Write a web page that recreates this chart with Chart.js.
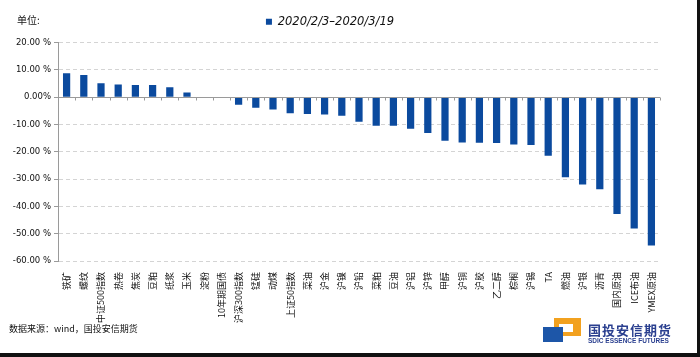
<!DOCTYPE html>
<html>
<head>
<meta charset="utf-8">
<script src="https://cdn.jsdelivr.net/npm/chart.js@4/dist/chart.umd.min.js"></script>
<style>
  html,body{margin:0;padding:0;background:#fff;}
  #wrap{position:relative;width:700px;height:357px;overflow:hidden;background:#fff;}
  #c{position:absolute;left:0;top:0;}
  .txt{position:absolute;font-family:"Noto Sans CJK SC","DejaVu Sans",sans-serif;color:#111;white-space:nowrap;}
</style>
</head>
<body>
<div id="wrap">
  <canvas id="c" width="700" height="357"></canvas>
  <div class="txt" style="left:17px;top:12px;font-size:10px;">单位:</div>
  <div class="txt" style="left:9px;top:322px;font-size:9px;">数据来源：wind，国投安信期货</div>
  <!-- logo -->
  <div style="position:absolute;left:554px;top:318px;width:27px;height:18px;background:#f2a11f;"></div>
  <div style="position:absolute;left:559px;top:324px;width:14px;height:8px;background:#fff;"></div>
  <div style="position:absolute;left:543px;top:327px;width:20px;height:15px;background:#1d56a8;"></div>
  <div class="txt" style="left:588px;top:320px;font-size:13px;font-weight:bold;color:#2a3f8f;letter-spacing:1px;">国投安信期货</div>
  <div class="txt" style="left:588px;top:337px;font-size:6.5px;color:#2a3f8f;font-family:'Liberation Sans',sans-serif;font-weight:bold;">SDIC ESSENCE FUTURES</div>
  <div style="position:absolute;left:697px;top:0;width:3px;height:357px;background:#111;"></div>
  <div style="position:absolute;left:0;top:353px;width:700px;height:4px;background:#111;"></div>
</div>
<script>
const categories = ["铁矿","螺纹","中证500指数","热卷","焦炭","豆粕","纸浆","玉米","淀粉","10年期国债",
  "沪深300指数","锰硅","动煤","上证50指数","菜油","沪金","沪镍","沪铅","菜粕","豆油",
  "沪铝","沪锌","甲醇","沪铜","沪胶","乙二醇","棕榈","沪锡","TA","燃油",
  "沪银","沥青","国内原油","ICE布油","YMEX原油"];
const changes = [8.7,8.1,5.1,4.6,4.4,4.4,3.6,1.7,-0.2,-0.3,
  -2.8,-3.9,-4.5,-5.9,-6.2,-6.4,-6.8,-9.0,-10.5,-10.5,
  -11.6,-13.1,-16.0,-16.6,-16.7,-16.8,-17.3,-17.5,-21.5,-29.3,
  -32.0,-33.7,-42.8,-48.1,-54.3];
const seriesName = "2020/2/3–2020/3/19";
const yTickLabels = {"20":"20.00 %","10":"10.00 %","0":"0.00%","-10":"-10.00 %","-20":"-20.00 %",
  "-30":"-30.00 %","-40":"-40.00 %","-50":"-50.00 %","-60":"-60.00 %"};

const legendGap = {
  id:'legendGap',
  beforeLayout(chart){
    const lg = chart.legend;
    if(lg && !lg._gapPatched){
      const orig = lg.fit;
      lg.fit = function(){ orig.call(this); this.height += 5; };
      lg._gapPatched = true;
    }
  }
};

const zeroLine = {
  id:'zeroLine',
  afterDatasetsDraw(chart){
    const {ctx, chartArea, scales:{x,y}} = chart;
    const y0 = Math.round(y.getPixelForValue(0)) + 0.5;
    ctx.save();
    ctx.strokeStyle = '#9a9a9a';
    ctx.lineWidth = 1;
    ctx.beginPath();
    ctx.moveTo(chartArea.left, y0);
    ctx.lineTo(chartArea.right, y0);
    const n = categories.length;
    for(let i=0;i<=n;i++){
      const xp = Math.round(x.getPixelForValue(i-0.5)) + 0.5;
      ctx.moveTo(xp, y0);
      ctx.lineTo(xp, y0+3);
    }
    ctx.stroke();
    ctx.restore();
  }
};

new Chart(document.getElementById('c'), {
  type:'bar',
  data:{
    labels: categories,
    datasets:[{
      label: seriesName,
      data: changes,
      backgroundColor:'#0b4a9e',
      borderWidth:0,
      barPercentage:0.42,
      categoryPercentage:1.0
    }]
  },
  options:{
    responsive:false,
    animation:false,
    devicePixelRatio:1,
    layout:{padding:{left:0,right:40,top:4,bottom:0}},
    plugins:{
      legend:{
        display:true,
        position:'top',
        labels:{
          usePointStyle:true,
          pointStyle:'rect',
          boxWidth:6,
          boxHeight:6,
          padding:12,
          color:'#111',
          font:{family:"'DejaVu Sans', sans-serif",size:11.5,style:'italic'}
        }
      },
      tooltip:{enabled:false}
    },
    scales:{
      x:{
        grid:{display:false},
        border:{display:false},
        ticks:{
          autoSkip:false,
          minRotation:90,
          maxRotation:90,
          padding:3,
          color:'#111',
          font:{family:"'Noto Sans CJK SC', sans-serif",size:9}
        },
        afterFit(s){ s.height = 96; }
      },
      y:{
        min:-60,max:20,
        grid:{color:'#d4d4d4',lineWidth:1,drawTicks:true,tickLength:4,tickColor:'#9a9a9a'},
        border:{display:true,color:'#9a9a9a',dash:[4,3]},
        ticks:{
          stepSize:10,
          padding:3,
          color:'#111',
          font:{family:"'DejaVu Sans', sans-serif",size:8.5},
          callback:(v)=>yTickLabels[String(v)]
        },
        afterFit(s){ s.width = 58; }
      }
    }
  },
  plugins:[legendGap, zeroLine]
});
</script>
</body>
</html>
